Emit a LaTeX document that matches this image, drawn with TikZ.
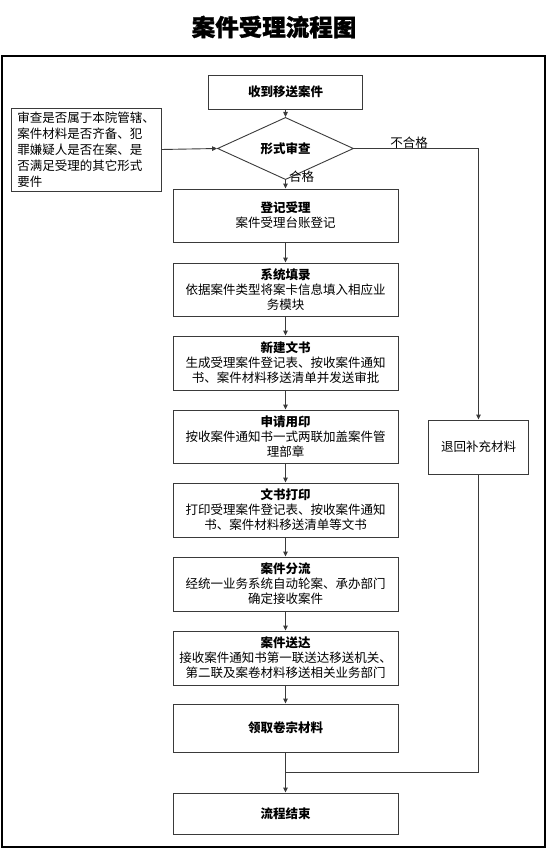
\documentclass[tikz,border=0pt]{standalone}
\usepackage{fontspec}
\setmainfont{Noto Sans CJK SC}
\newfontfamily\titlefont[BoldFeatures={FakeBold=1.2}]{Noto Sans CJK SC}
\usetikzlibrary{shapes.geometric,arrows.meta}
\definecolor{edge}{HTML}{3A3A3A}
\tikzset{
  x=1pt,y=-1pt,
  box/.style={draw=edge,line width=0.9pt,minimum width=225pt,align=center,inner sep=2pt,
    font=\fontsize{12.5}{15}\selectfont},
  conn/.style={draw=edge,line width=0.9pt,-{Triangle[length=5pt,width=4.5pt]}},
  plain/.style={draw=edge,line width=0.9pt},
  lbl/.style={font=\fontsize{12.5}{15}\selectfont,inner sep=1pt}
}
\begin{document}
\begin{tikzpicture}
\useasboundingbox (0,0) rectangle (547,853);
\node[font=\fontsize{23.5}{28}\selectfont\titlefont\bfseries] (title) at (274,27) {案件受理流程图};
\draw[line width=1.8pt,black] (2,56) rectangle (545,847);

\node[box,minimum width=154pt,minimum height=34pt] (b1) at (285.5,92) {\bfseries 收到移送案件};
\node[draw=edge,line width=0.9pt,diamond,minimum width=136pt,minimum height=41pt,inner sep=0pt,
  font=\fontsize{12.5}{15}\selectfont] (dia) at (285.5,148.5) {\bfseries 形式审查};
\node[draw=edge,line width=0.9pt,minimum width=150pt,minimum height=83pt,align=left,inner sep=0pt,
  font=\fontsize{12.5}{16}\selectfont] (note) at (86,149.5)
  {审查是否属于本院管辖、\\案件材料是否齐备、犯\\罪嫌疑人是否在案、是\\否满足受理的其它形式\\要件};

\node[box,minimum height=53pt] (r1) at (285.5,215.5) {{\bfseries 登记受理}\\案件受理台账登记};
\node[box,minimum height=53pt] (r2) at (285.5,289.5) {{\bfseries 系统填录}\\依据案件类型将案卡信息填入相应业\\务模块};
\node[box,minimum height=54pt] (r3) at (285.5,363) {{\bfseries 新建文书}\\生成受理案件登记表、按收案件通知\\书、案件材料移送清单并发送审批};
\node[box,minimum height=53pt] (r4) at (285.5,436.5) {{\bfseries 申请用印}\\按收案件通知书一式两联加盖案件管\\理部章};
\node[box,minimum height=54pt] (r5) at (285.5,510) {{\bfseries 文书打印}\\打印受理案件登记表、按收案件通知\\书、案件材料移送清单等文书};
\node[box,minimum height=54pt] (r6) at (285.5,584) {{\bfseries 案件分流}\\经统一业务系统自动轮案、承办部门\\确定接收案件};
\node[box,minimum height=54pt] (r7) at (285.5,658) {{\bfseries 案件送达}\\接收案件通知书第一联送达移送机关、\\第二联及案卷材料移送相关业务部门};
\node[box,minimum height=48pt] (r8) at (285.5,728) {\bfseries 领取卷宗材料};
\node[box,minimum height=41pt] (r9) at (285.5,813.5) {\bfseries 流程结束};

\node[box,minimum width=100pt,minimum height=54pt] (back) at (478.5,447) {退回补充材料};

\coordinate (turn) at (478.5,148.5);
\coordinate (merge) at (478.5,772);
\coordinate (join) at (285.5,772);

\node[lbl,anchor=west] (ok) at (288,176.5) {合格};
\node[lbl,anchor=south] (bad) at (409,150) {不合格};

\draw[conn] (b1) -- (dia);
\draw[conn] (note.east) -- (dia.west);
\draw[conn] (dia) -- (r1);
\draw[conn] (dia.east) -- (turn) -- (back.north);
\draw[conn] (r1) -- (r2);
\draw[conn] (r2) -- (r3);
\draw[conn] (r3) -- (r4);
\draw[conn] (r4) -- (r5);
\draw[conn] (r5) -- (r6);
\draw[conn] (r6) -- (r7);
\draw[conn] (r7) -- (r8);
\draw[conn] (r8) -- (r9);
\draw[plain] (back.south) -- (merge) -- (join);
\end{tikzpicture}
\end{document}
